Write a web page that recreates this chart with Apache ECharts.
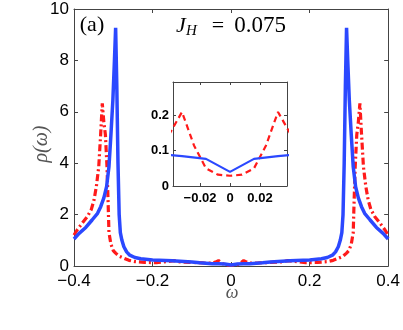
<!DOCTYPE html>
<html>
<head>
<meta charset="utf-8">
<script src="https://cdn.jsdelivr.net/npm/echarts@6/dist/echarts.min.js"></script>
<style>
  html, body { margin: 0; padding: 0; background: #fff; }
  #chart { width: 403px; height: 330px; }
</style>
</head>
<body>
<div id="chart"></div>
<script>
// density of states, solid blue curve
var omegaBlue = [-0.4, -0.387, -0.37, -0.354, -0.34, -0.332, -0.324, -0.317, -0.311, -0.306,
  -0.301, -0.297, -0.294, -0.291, -0.288, -0.285, -0.282, -0.278, -0.273, -0.266,
  -0.258, -0.245, -0.23, -0.2, -0.15, -0.1, -0.08, -0.048, -0.032, -0.016, 0,
  0.016, 0.032, 0.048, 0.08, 0.1, 0.15, 0.2, 0.23, 0.245, 0.258,
  0.266, 0.273, 0.278, 0.282, 0.285, 0.288, 0.291, 0.294, 0.297, 0.301,
  0.306, 0.311, 0.317, 0.324, 0.332, 0.34, 0.354, 0.37, 0.387, 0.4];
var rhoBlue = [1.05, 1.27, 1.5, 1.79, 2.05, 2.31, 2.65, 3.09, 3.86, 5.1,
  6.46, 8.0, 9.27, 7.0, 4.0, 2.0, 1.3, 1.0, 0.75, 0.55,
  0.42, 0.33, 0.28, 0.23, 0.2, 0.16, 0.13, 0.09, 0.085, 0.077, 0.04,
  0.077, 0.085, 0.09, 0.13, 0.16, 0.2, 0.23, 0.28, 0.33, 0.42,
  0.55, 0.75, 1.0, 1.3, 2.0, 4.0, 7.0, 9.27, 8.0, 6.46,
  5.1, 3.86, 3.09, 2.65, 2.31, 2.05, 1.79, 1.5, 1.27, 1.05];

// density of states, dashed red curve
var omegaRed = [-0.4, -0.392, -0.38, -0.366, -0.356, -0.349, -0.343, -0.337, -0.332, -0.328,
  -0.324, -0.32, -0.316, -0.313, -0.311, -0.306, -0.3, -0.294, -0.285, -0.273,
  -0.26, -0.245, -0.22, -0.19, -0.16, -0.145, -0.13, -0.1, -0.07, -0.048,
  -0.04, -0.032, -0.024, -0.016, -0.008, 0, 0.008, 0.016, 0.024, 0.032, 0.04,
  0.048, 0.07, 0.1, 0.13, 0.145, 0.16, 0.19, 0.22, 0.245, 0.26,
  0.273, 0.285, 0.294, 0.3, 0.306, 0.311, 0.313, 0.316, 0.32, 0.324,
  0.328, 0.332, 0.337, 0.343, 0.349, 0.356, 0.366, 0.38, 0.392, 0.4];
var rhoRed = [1.2, 1.4, 1.65, 1.92, 2.2, 2.57, 3.1, 3.86, 5.16, 6.33,
  5.6, 5.1, 3.86, 2.4, 1.3, 0.85, 0.6, 0.5, 0.38, 0.3,
  0.22, 0.17, 0.14, 0.13, 0.18, 0.21, 0.16, 0.14, 0.12, 0.11,
  0.15, 0.21, 0.115, 0.05, 0.032, 0.029, 0.032, 0.05, 0.115, 0.21, 0.15,
  0.11, 0.12, 0.14, 0.16, 0.21, 0.18, 0.13, 0.14, 0.17, 0.22,
  0.3, 0.38, 0.5, 0.6, 0.85, 1.3, 2.4, 3.86, 5.1, 5.6,
  6.33, 5.16, 3.86, 3.1, 2.57, 2.2, 1.92, 1.65, 1.4, 1.2];

// tick labels
var insetXTicks = [-0.02, 0, 0.02];
var insetYTicks = [0, 0.1, 0.2];

function pairs(xs, ys) {
  var out = [];
  for (var i = 0; i < xs.length; i++) out.push([xs[i], ys[i]]);
  return out;
}
function minus(v) {
  return String(v).replace('-', '\u2212');
}

var axisCol = '#444';
var blue = '#2b48ff';
var red = '#ff1a1a';
var serif = '"Liberation Serif"';

var chart = echarts.init(document.getElementById('chart'));

var boxAxis = function (extra) {
  return Object.assign({
    axisLine: { show: true, onZero: false, lineStyle: { color: axisCol, width: 1 } },
    axisTick: { show: true, inside: true, length: 4, lineStyle: { color: axisCol } },
    splitLine: { show: false }
  }, extra);
};

function label(x, y, text, font, fill, align, rot) {
  return {
    type: 'text', x: x, y: y, rotation: rot || 0, z: 10,
    style: { text: text, font: font, fill: fill || '#000', align: align || 'center', verticalAlign: 'middle' }
  };
}

var option = {
  animation: false,
  graphic: [
    label(92, 25, '(a)', '22px ' + serif),
    label(176, 26, 'J', 'italic 22px ' + serif, '#000', 'left'),
    label(186, 31, 'H', 'italic 15px ' + serif, '#000', 'left'),
    label(218, 26, '=', '22px ' + serif),
    label(260, 26, '0.075', '23px ' + serif),
    label(42, 144, '\u03c1(\u03c9)', 'italic 20px ' + serif, '#555', 'center', Math.PI / 2),
    label(232, 293, '\u03c9', 'italic 18px ' + serif, '#555')
  ],
  grid: [
    { left: 74, right: 13, top: 9, bottom: 64 },
    { left: 173, top: 82, width: 114, height: 104, backgroundColor: '#fff', show: true, borderWidth: 0 }
  ],
  xAxis: [
    boxAxis({ type: 'value', gridIndex: 0, min: -0.4, max: 0.4, interval: 0.2,
      axisLabel: { margin: 7, fontSize: 17, color: '#000', fontFamily: 'Liberation Sans', formatter: minus } }),
    boxAxis({ type: 'value', gridIndex: 0, position: 'top', min: -0.4, max: 0.4, interval: 0.2,
      axisLabel: { show: false } }),
    boxAxis({ type: 'value', gridIndex: 1, min: -0.038, max: 0.038,
      axisTick: { show: true, inside: true, length: 3, lineStyle: { color: axisCol }, customValues: insetXTicks },
      axisLabel: { margin: 6, fontSize: 13, fontWeight: 'bold', color: '#000', fontFamily: 'Liberation Sans',
        customValues: insetXTicks, formatter: minus } }),
    boxAxis({ type: 'value', gridIndex: 1, position: 'top', min: -0.038, max: 0.038,
      axisTick: { show: true, inside: true, length: 3, lineStyle: { color: axisCol }, customValues: insetXTicks },
      axisLabel: { show: false } })
  ],
  yAxis: [
    boxAxis({ type: 'value', gridIndex: 0, min: 0, max: 10, interval: 2,
      axisLabel: { margin: 5, fontSize: 17, color: '#000', fontFamily: 'Liberation Sans' } }),
    boxAxis({ type: 'value', gridIndex: 0, position: 'right', min: 0, max: 10, interval: 2,
      axisLabel: { show: false } }),
    boxAxis({ type: 'value', gridIndex: 1, min: 0, max: 0.295,
      axisTick: { show: true, inside: true, length: 3, lineStyle: { color: axisCol }, customValues: insetYTicks },
      axisLabel: { margin: 4, fontSize: 13, fontWeight: 'bold', color: '#000', fontFamily: 'Liberation Sans',
        customValues: insetYTicks } }),
    boxAxis({ type: 'value', gridIndex: 1, position: 'right', min: 0, max: 0.295,
      axisTick: { show: true, inside: true, length: 3, lineStyle: { color: axisCol }, customValues: insetYTicks },
      axisLabel: { show: false } })
  ],
  series: [
    { type: 'line', xAxisIndex: 0, yAxisIndex: 0, data: pairs(omegaRed, rhoRed), showSymbol: false,
      lineStyle: { color: red, width: 3.2, type: [7, 3, 2, 3] }, z: 2 },
    { type: 'line', xAxisIndex: 0, yAxisIndex: 0, data: pairs(omegaBlue, rhoBlue), showSymbol: false,
      lineStyle: { color: blue, width: 3.5 }, z: 3 },
    { type: 'line', xAxisIndex: 2, yAxisIndex: 2, data: pairs(omegaRed, rhoRed), showSymbol: false,
      lineStyle: { color: red, width: 2.2, type: [6, 4] }, z: 5 },
    { type: 'line', xAxisIndex: 2, yAxisIndex: 2, data: pairs(omegaBlue, rhoBlue), showSymbol: false,
      lineStyle: { color: blue, width: 2.2 }, z: 6 }
  ]
};

chart.setOption(option);
</script>
</body>
</html>
